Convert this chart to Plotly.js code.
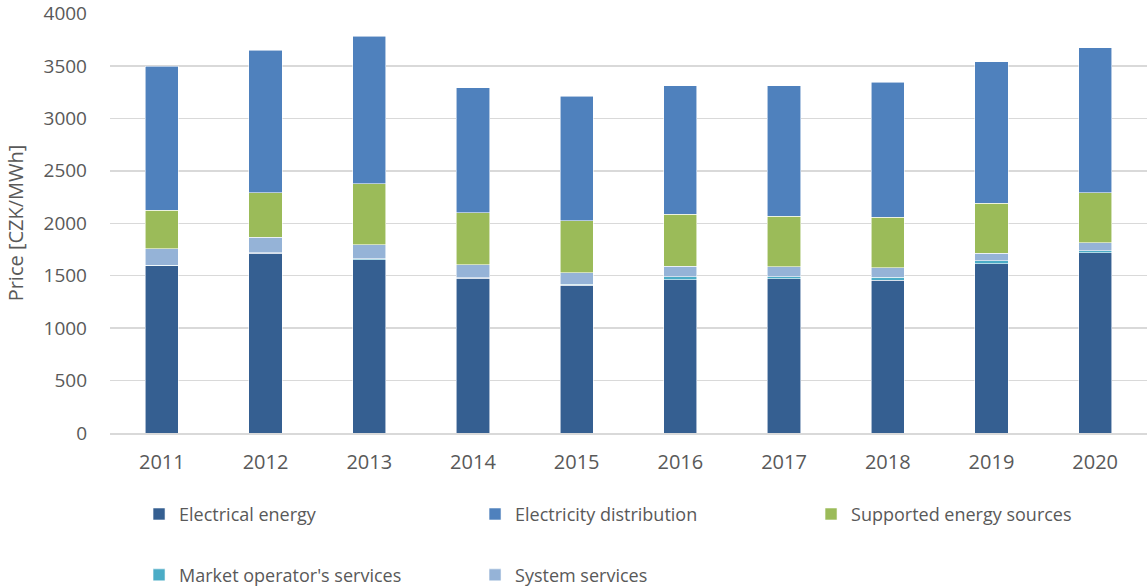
<!DOCTYPE html>
<html><head><meta charset="utf-8">
<script src="https://cdn.plot.ly/plotly-3.0.1.min.js"></script>
<style>html,body{margin:0;padding:0;background:#fff}#c{width:1148px;height:588px}</style>
</head><body><div id="c"></div>
<script>
const years = ['2011','2012','2013','2014','2015','2016','2017','2018','2019','2020'];
const electricalEnergy = [1593,1712,1651,1474,1410,1460,1470,1457,1613,1717];
const marketOperator = [5,5,9,5,9,29,22,26,28,20];
const systemServices = [157,150,137,124,111,101,95,92,73,79];
const supportedSources = [369,422,581,499,495,496,480,482,476,473];
const distribution = [1371,1362,1407,1191,1185,1224,1243,1290,1350,1384];

const font = '"Open Sans", sans-serif';
const line = {color:'rgba(255,255,255,0.7)', width:0.8};
function tr(name, y, color, legend, rank){
  return {type:'bar', name:name, x:years, y:y, marker:{color:color, line:line}, legend:legend, legendrank:rank};
}
const data = [
  tr('Electrical energy', electricalEnergy, '#355f91', 'legend', 1),
  tr("Market operator's services", marketOperator, '#4bacc6', 'legend2', 1),
  tr('System services', systemServices, '#95b3d7', 'legend2', 2),
  tr('Supported energy sources', supportedSources, '#9bbb59', 'legend', 3),
  tr('Electricity distribution', distribution, '#4f81bd', 'legend', 2)
];
const legBase = {orientation:'h', xanchor:'left', yanchor:'middle', entrywidth:291, entrywidthmode:'pixels',
  font:{family:font, size:18, color:'#595959'}, bgcolor:'rgba(0,0,0,0)', traceorder:'normal'};
const layout = {
  width:1148, height:588,
  margin:{l:110, r:1, t:13, b:155, autoexpand:false},
  paper_bgcolor:'#fff', plot_bgcolor:'#fff',
  barmode:'stack', bargap:0.68,
  font:{family:font, color:'#595959'},
  xaxis:{type:'category', tickfont:{size:20, color:'#595959'}, showgrid:false, showline:true,
    linecolor:'#d9d9d9', linewidth:1.5, ticks:'', ticklabelstandoff:10, fixedrange:true},
  yaxis:{range:[0,4005], dtick:500, tickfont:{size:19, color:'#595959'}, gridcolor:'#d9d9d9', gridwidth:1.5,
    zeroline:false, ticks:'', showline:false, ticklabelstandoff:22, ticklabeloverflow:'allow',
    title:{text:'Price [CZK/MWh]', font:{size:20, color:'#595959'}, standoff:14}},
  showlegend:true,
  legend: Object.assign({}, legBase, {x:0.028, y:-0.1935}),
  legend2: Object.assign({}, legBase, {x:0.028, y:-0.3385})
};
Plotly.newPlot('c', data, layout, {displayModeBar:false, staticPlot:true});
</script></body></html>
